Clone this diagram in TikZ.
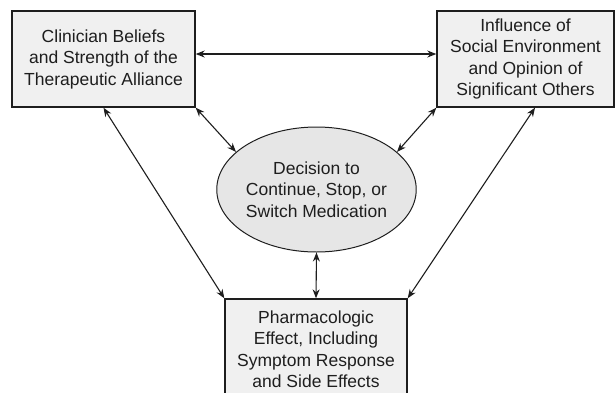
\documentclass[tikz,border=0pt]{standalone}
\usepackage{fontspec}
\setmainfont{Liberation Sans}
\usetikzlibrary{shapes.geometric,arrows.meta}
\definecolor{boxfill}{HTML}{F0F0F0}
\definecolor{ellfill}{HTML}{E6E6E6}
\definecolor{ink}{HTML}{1E1E1E}
\begin{document}
\begin{tikzpicture}[x=1pt,y=-1pt,
  box/.style={draw=ink,line width=1.4pt,fill=boxfill,align=center,inner sep=0pt,
    font=\fontsize{17.5}{21.5}\selectfont,text=ink},
  ell/.style={ellipse,draw=ink,line width=1pt,fill=ellfill,align=center,inner sep=0pt,
    minimum width=183pt,minimum height=125pt,font=\fontsize{17.5}{21.5}\selectfont,text=ink},
  link/.style={{Stealth[length=9pt,width=7pt]}-{Stealth[length=9pt,width=7pt]},line width=1.1pt,draw=ink}]
\useasboundingbox (0,0) rectangle (616,392);
\clip (0,0) rectangle (616,392);
\node[box,minimum width=183pt,minimum height=96pt] (L) at (103.5,59)
  {Clinician Beliefs\\and Strength of the\\Therapeutic Alliance};
\node[box,minimum width=177pt,minimum height=96pt] (R) at (525.5,59)
  {Influence of\\Social Environment\\and Opinion of\\Significant Others};
\node[ell] (E) at (316.5,189.5) {Decision to\\Continue, Stop, or\\Switch Medication};
\node[box,minimum width=182pt,minimum height=100pt] (B) at (316,349)
  {Pharmacologic\\Effect, Including\\Symptom Response\\and Side Effects};
\coordinate (h) at (0,54);
\coordinate (rs) at ([xshift=9.5pt]R.south);
\draw[link] (L.east |- h) -- (R.west |- h);
\draw[link] (L.south east) -- (E.155);
\draw[link] (R.south west) -- (E.25);
\draw[link] (L.south) -- (B.north west);
\draw[link] (rs) -- (B.north east);
\draw[link] (E.south) -- (B.north);
\end{tikzpicture}
\end{document}
